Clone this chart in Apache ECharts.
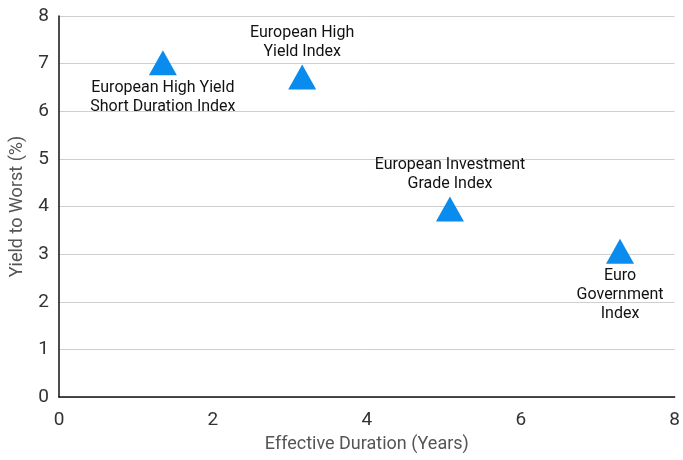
<!DOCTYPE html>
<html><head><meta charset="utf-8">
<script src="https://cdn.jsdelivr.net/npm/echarts@6/dist/echarts.min.js"></script>
<style>html,body{margin:0;padding:0;background:#fff}#c{width:683px;height:460px}</style>
</head><body><div id="c"></div>
<script>
const names = ["European High Yield\nShort Duration Index", "European High\nYield Index", "European Investment\nGrade Index", "Euro\nGovernment\nIndex"];
const duration = [1.35, 3.16, 5.08, 7.29];
const yieldToWorst = [7.02, 6.72, 3.95, 3.06];
const xTicks = [0, 2, 4, 6, 8];
const yTicks = [0, 1, 2, 3, 4, 5, 6, 7, 8];

const labelPos = ["bottom", "top", "top", "bottom"];
const font = "Roboto, 'Liberation Sans', sans-serif";
const labelFont = "Roboto, sans-serif";
const data = names.map((n, i) => ({
  value: [duration[i], yieldToWorst[i]],
  name: n,
  label: { position: labelPos[i], distance: 3 }
}));
const chart = echarts.init(document.getElementById('c'));
chart.setOption({
  animation: false,
  grid: { left: 58, right: 5, top: 16, bottom: 63 },
  xAxis: {
    type: 'value', min: xTicks[0], max: xTicks[xTicks.length - 1], interval: 2,
    name: 'Effective Duration (Years)', nameLocation: 'middle', nameGap: 38,
    nameTextStyle: { fontFamily: font, fontSize: 18, color: '#555' },
    axisLine: { lineStyle: { color: '#111', width: 1.5 } },
    axisTick: { show: false },
    splitLine: { show: false },
    axisLabel: { fontFamily: font, fontSize: 19, color: '#333', margin: 14 }
  },
  yAxis: {
    type: 'value', min: yTicks[0], max: yTicks[yTicks.length - 1], interval: 1,
    name: 'Yield to Worst (%)', nameLocation: 'middle', nameGap: 33,
    nameTextStyle: { fontFamily: font, fontSize: 18, color: '#555' },
    axisLine: { show: true, lineStyle: { color: '#111', width: 1.5 } },
    axisTick: { show: false },
    splitLine: { lineStyle: { color: '#cfcfcf', width: 1 } },
    axisLabel: { fontFamily: font, fontSize: 19, color: '#333', margin: 10 }
  },
  series: [{
    type: 'scatter',
    symbol: 'triangle',
    symbolSize: [28, 25],
    itemStyle: { color: '#0A8CEE', opacity: 1 },
    data: data,
    label: {
      show: true,
      formatter: p => p.name,
      fontFamily: labelFont, fontSize: 16, color: '#111', lineHeight: 19, align: 'center'
    }
  }]
});
</script></body></html>
